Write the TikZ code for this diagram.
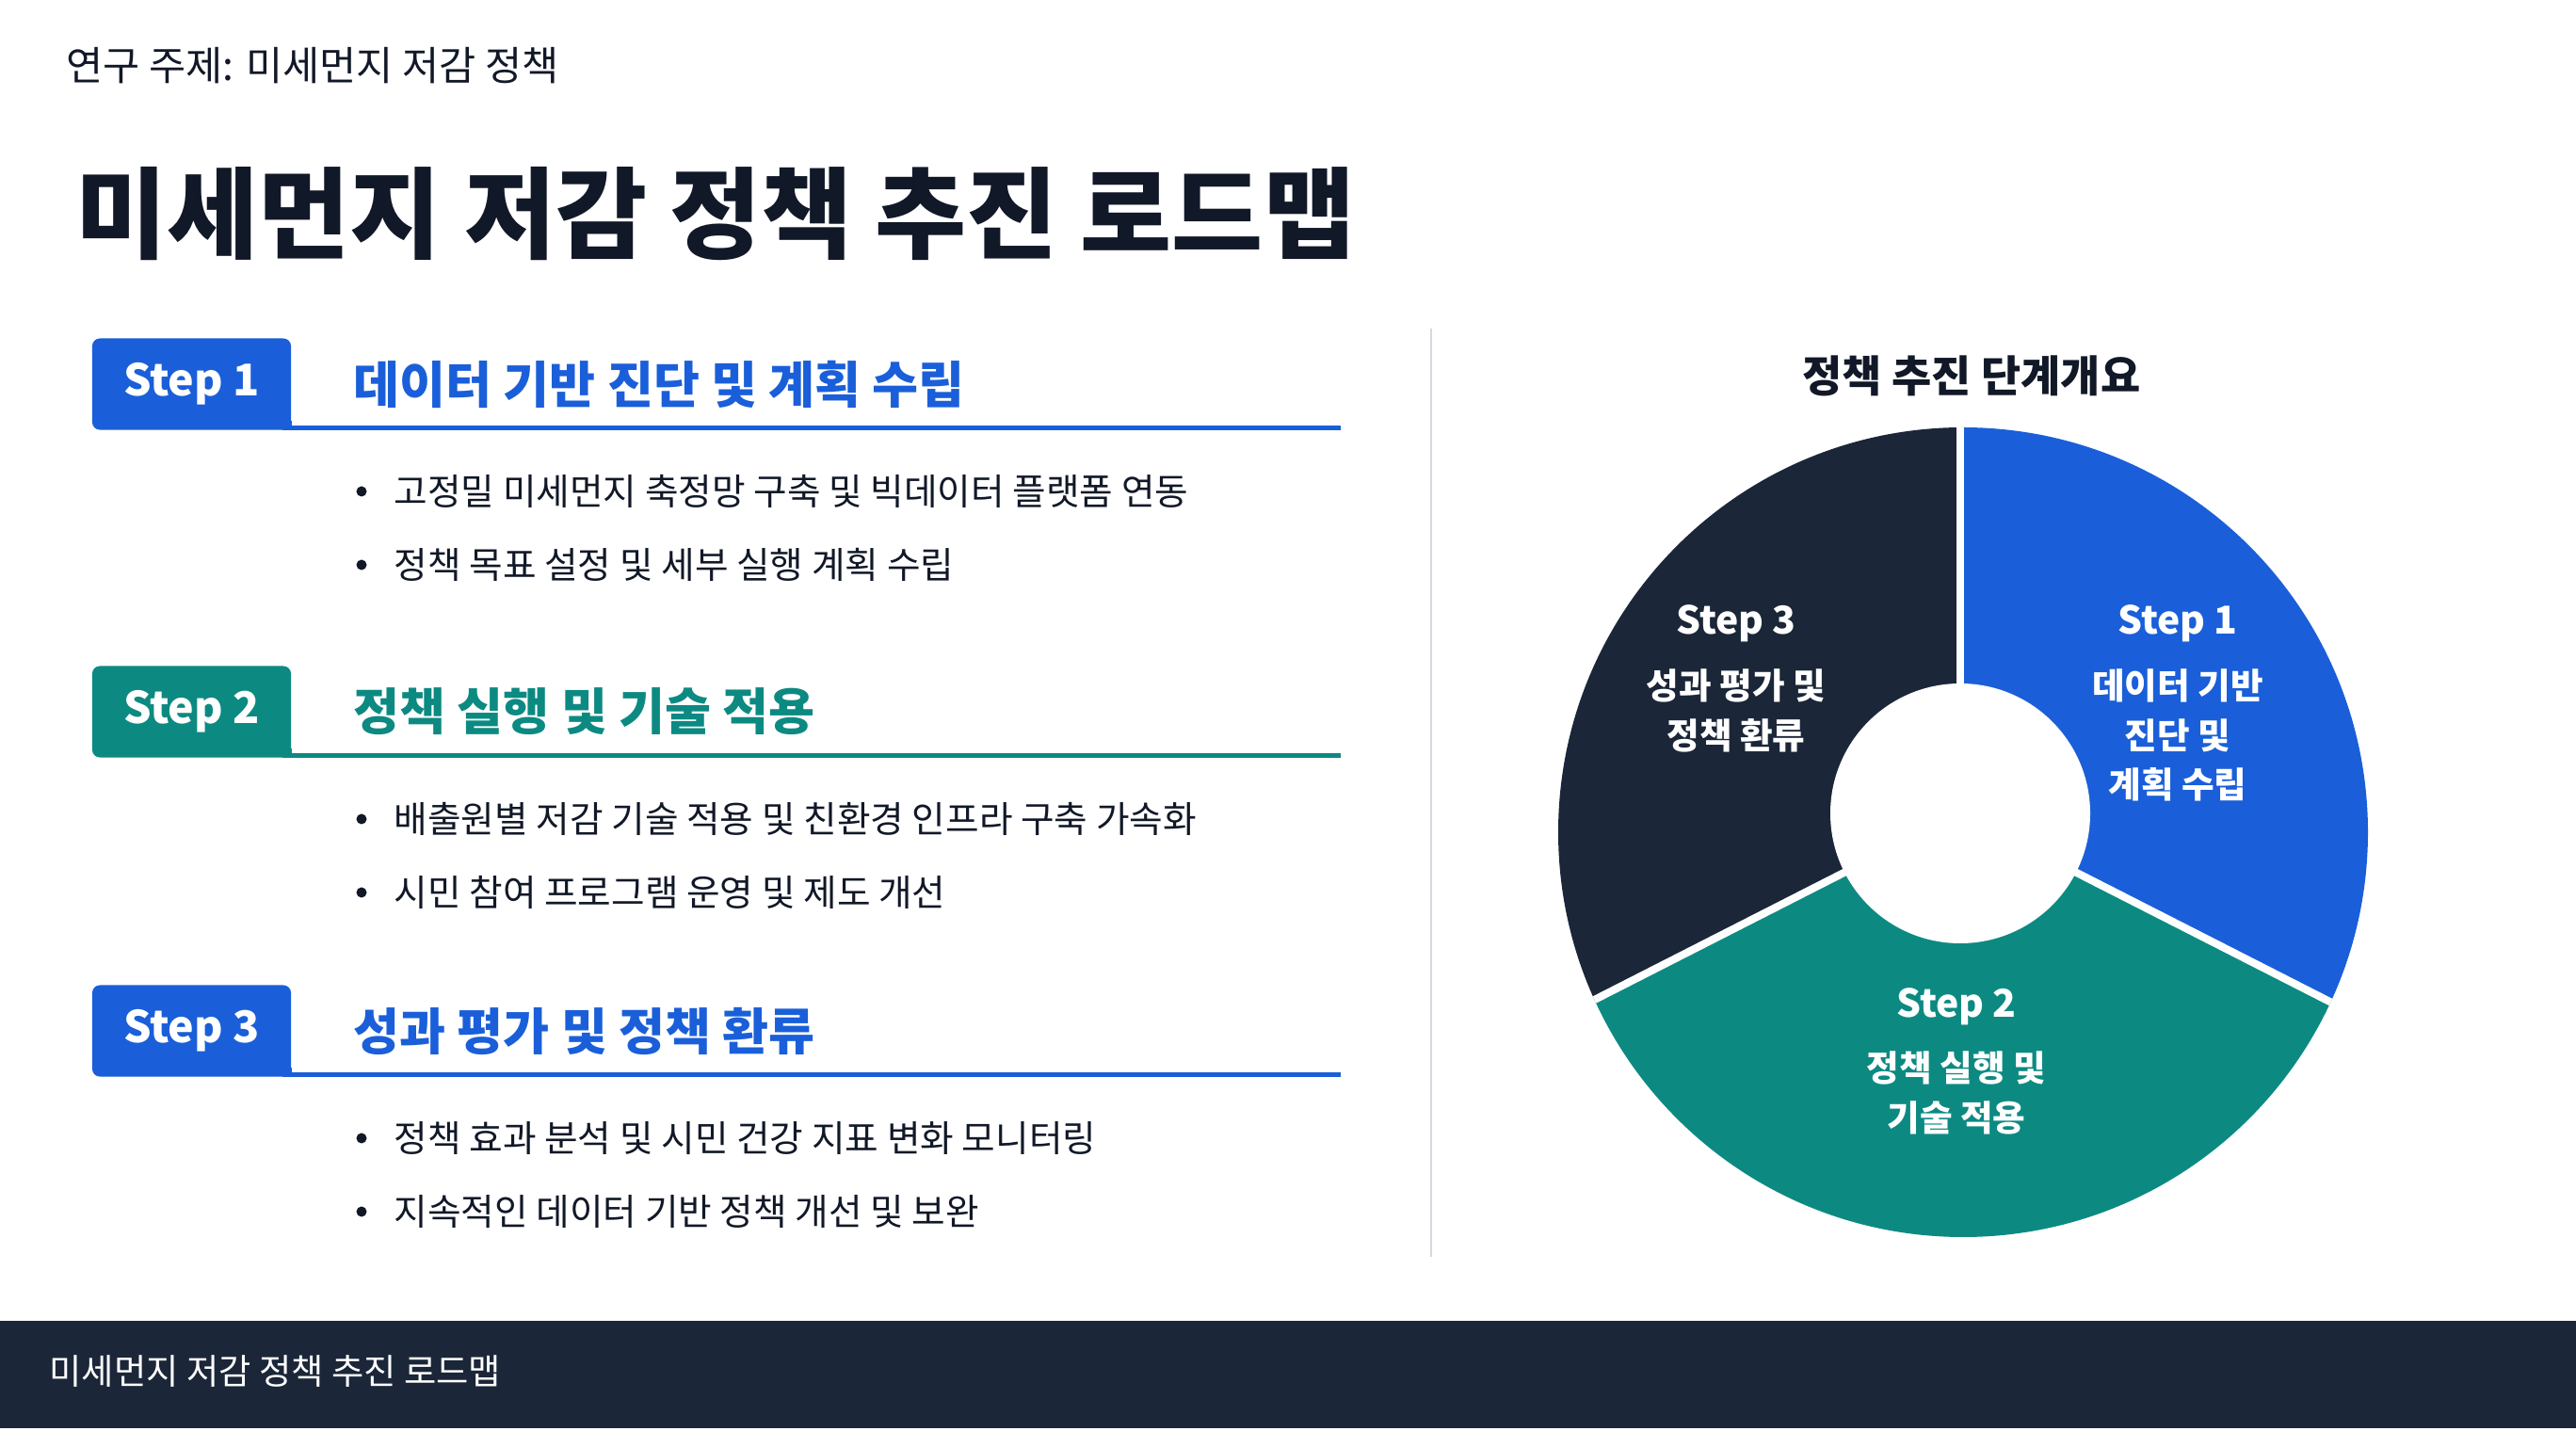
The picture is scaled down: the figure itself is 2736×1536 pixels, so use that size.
\documentclass[tikz,border=0pt]{standalone}
\usepackage{fontspec}
\setmainfont{Noto Sans CJK KR}
\definecolor{stepblue}{HTML}{1A5FD9}
\definecolor{stepteal}{HTML}{0C8A82}
\definecolor{navy}{HTML}{1B2638}
\definecolor{inkdark}{HTML}{111827}
\definecolor{rulegray}{HTML}{D5D9E0}
\newcommand{\fsz}[2]{\fontsize{#1}{#2}\selectfont}
\begin{document}
\begin{tikzpicture}[x=0.01cm,y=0.01cm,line join=round,
	txt/.style={inner sep=0,anchor=west,text=inkdark},
	stepbox/.style={fill=#1,rounded corners=2.3pt,minimum width=2.11cm,minimum height=0.97cm,inner sep=0,text=white,font=\fsz{13.2pt}{16pt}\bfseries},
	steplabel/.style={inner sep=0,anchor=west,text=#1,font=\fsz{15.15pt}{18pt}\bfseries},
	bulletdot/.style={circle,fill=inkdark,inner sep=0,minimum size=0.11cm},
	bullettext/.style={txt,font=\fsz{11pt}{13pt}},
	pietitle/.style={inner sep=0,text=white,font=\fsz{11.6pt}{14pt}\bfseries},
	piebody/.style={inner sep=0,text=white,align=center,font=\fsz{10.7pt}{14.9pt}\bfseries}]
	\useasboundingbox (0,0) rectangle (2736,1536);
	% header
	\node[txt,font=\fsz{12.1pt}{14pt}] (topic) at (70,1466) {연구 주제: 미세먼지 저감 정책};
	\node[txt,font=\fsz{30pt}{34pt}\bfseries] (title) at (80,1309) {미세먼지 저감 정책 추진 로드맵};
	% steps
	\foreach \n/\yc/\col/\head/\bulA/\bulB in {
		1/1128/stepblue/데이터 기반 진단 및 계획 수립/고정밀 미세먼지 축정망 구축 및 빅데이터 플랫폼 연동/정책 목표 설정 및 세부 실행 계획 수립,
		2/780/stepteal/정책 실행 및 기술 적용/배출원별 저감 기술 적용 및 친환경 인프라 구축 가속화/시민 참여 프로그램 운영 및 제도 개선,
		3/441/stepblue/성과 평가 및 정책 환류/정책 효과 분석 및 시민 건강 지표 변화 모니터링/지속적인 데이터 기반 정책 개선 및 보완}{
		\node[stepbox=\col] (s\n) at (203.5,\yc) {Step \n};
		\fill[\col] (s\n.south east) rectangle ++(-10,10);
		\node[steplabel=\col] (h\n) at (375,\yc) {\head};
		\coordinate (e\n) at (1424,\yc-46.5);
		\draw[\col,line width=1.4pt] (s\n.south east |- e\n) -- (e\n);
		\node[bulletdot] (ba\n) at (384,\yc-114) {};
		\node[bullettext] (ta\n) at (418,\yc-114) {\bulA};
		\node[bulletdot] (bb\n) at (384,\yc-192) {};
		\node[bullettext] (tb\n) at (418,\yc-192) {\bulB};
	}
	% divider
	\draw[rulegray,line width=0.6pt] (1520,201) -- (1520,1187);
	% donut
	\node[inner sep=0,text=inkdark,font=\fsz{13.05pt}{16pt}\bfseries] (ptitle) at (2094,1137) {정책 추진 단계개요};
	\coordinate (o) at (2085,652);
	\coordinate (i) at (2082,672);
	\begin{scope}
		\clip (o) circle (430);
		\fill[stepblue] (i) -- ++(-27:600) arc (-27:90:600) -- cycle;
		\fill[navy] (i) -- ++(90:600) arc (90:207:600) -- cycle;
		\fill[stepteal] (i) -- ++(207:600) arc (207:333:600) -- cycle;
		\foreach \a in {90,207,333}
			\draw[white,line width=2.3pt] (i) -- ++(\a:600);
	\end{scope}
	\fill[white] (i) circle (138);
	\node[pietitle] (p1t) at (2313,874) {Step 1};
	\node[piebody] (p1b) at (2313,755) {데이터 기반\\진단 및\\계획 수립};
	\node[pietitle] (p3t) at (1844,874) {Step 3};
	\node[piebody] (p3b) at (1844,781) {성과 평가 및\\정책 환류};
	\node[pietitle] (p2t) at (2078,467) {Step 2};
	\node[piebody] (p2b) at (2078,375) {정책 실행 및\\기술 적용};
	% footer
	\fill[navy] (0,19) rectangle (2736,133);
	\node[txt,text=white,font=\fsz{10.6pt}{12pt}] (foot) at (52,79) {미세먼지 저감 정책 추진 로드맵};
\end{tikzpicture}
\end{document}
